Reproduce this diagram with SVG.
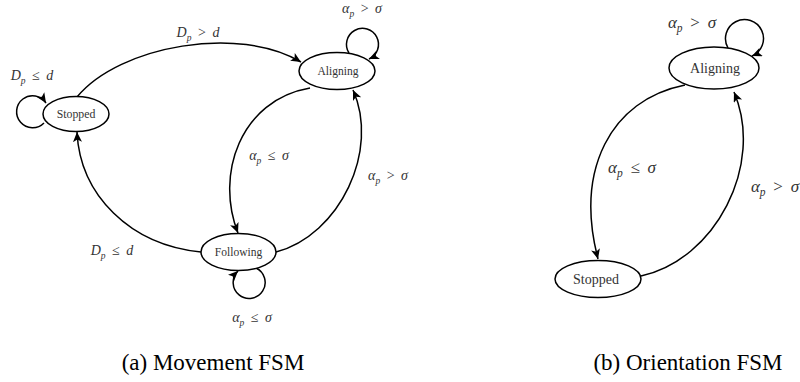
<svg xmlns="http://www.w3.org/2000/svg" width="800" height="382" viewBox="0 0 800 382">
<defs>
<marker id="arr" markerUnits="userSpaceOnUse" markerWidth="11" markerHeight="10" refX="10" refY="4.5" orient="auto">
<path d="M0,0 L10,4.5 L0,9 L2.5,4.5 z" fill="#000"/>
</marker>
<style>
.st{fill:#fff;stroke:#000;stroke-width:1.5}
.nl{fill:#333;text-anchor:middle}
.ed{fill:none;stroke:#000;stroke-width:1.5;marker-end:url(#arr)}
.ml{fill:#333;text-anchor:middle}
.i{font-style:italic}
.cap{font-size:23px;fill:#000;text-anchor:middle}
</style>
</defs>
<rect width="800" height="382" fill="#fff"/>

<g id="connectors">
<path class="ed" d="M77,97 C120,45 240,25 301,62"/>
<path class="ed" d="M310,88 C240,100 215,175 238,233"/>
<path class="ed" d="M276,252 C340,235 380,150 353,90"/>
<path class="ed" d="M201,252 C130,245 80,195 77,132"/>
<path class="ed" d="M44,123 A16,16 0 1 1 46,103"/>
<path class="ed" d="M349,53 A16,16 0 1 1 369,59"/>
<path class="ed" d="M256,268 A16,16 0 1 1 238,271"/>
<path class="ed" d="M685,85 C610,100 575,170 598,259"/>
<path class="ed" d="M641,276 C715,260 765,165 734,92"/>
<path class="ed" d="M728,48 A19,19 0 1 1 752,56"/>
</g>

<g font-family="Liberation Serif, Times New Roman, serif">
<g id="stopped-a">
<ellipse class="st" cx="76" cy="114" rx="33" ry="17.5"/>
<text class="nl" x="76" y="118" font-size="11.8">Stopped</text>
</g>
<g id="aligning-a">
<ellipse class="st" cx="337" cy="71" rx="38" ry="18.5"/>
<text class="nl" x="338" y="75" font-size="11.5">Aligning</text>
</g>
<g id="following-a">
<ellipse class="st" cx="238.5" cy="252" rx="37.5" ry="18.5"/>
<text class="nl" x="238.5" y="256" font-size="11.5">Following</text>
</g>
<g id="aligning-b">
<ellipse class="st" cx="714" cy="68" rx="45" ry="21"/>
<text class="nl" x="715" y="73" font-size="14">Aligning</text>
</g>
<g id="stopped-b">
<ellipse class="st" cx="598" cy="279" rx="43" ry="18.5"/>
<text class="nl" x="596" y="284" font-size="14">Stopped</text>
</g>

<g id="labels">
<text class="ml" x="362" y="13" font-size="14"><tspan class="i">α</tspan><tspan class="i" font-size="9.5" dy="3.5">p</tspan><tspan dy="-3.5" dx="3"> &gt; </tspan><tspan class="i" dx="3">σ</tspan></text>
<text class="ml" x="32" y="80" font-size="14"><tspan class="i">D</tspan><tspan class="i" font-size="9.5" dy="3.5">p</tspan><tspan dy="-3.5" dx="3"> ≤ </tspan><tspan class="i" dx="3">d</tspan></text>
<text class="ml" x="198" y="37" font-size="14"><tspan class="i">D</tspan><tspan class="i" font-size="9.5" dy="3.5">p</tspan><tspan dy="-3.5" dx="3"> &gt; </tspan><tspan class="i" dx="3">d</tspan></text>
<text class="ml" x="269" y="160" font-size="14"><tspan class="i">α</tspan><tspan class="i" font-size="9.5" dy="3.5">p</tspan><tspan dy="-3.5" dx="3"> ≤ </tspan><tspan class="i" dx="3">σ</tspan></text>
<text class="ml" x="388" y="180" font-size="14"><tspan class="i">α</tspan><tspan class="i" font-size="9.5" dy="3.5">p</tspan><tspan dy="-3.5" dx="3"> &gt; </tspan><tspan class="i" dx="3">σ</tspan></text>
<text class="ml" x="112" y="255" font-size="14"><tspan class="i">D</tspan><tspan class="i" font-size="9.5" dy="3.5">p</tspan><tspan dy="-3.5" dx="3"> ≤ </tspan><tspan class="i" dx="3">d</tspan></text>
<text class="ml" x="252" y="322" font-size="14"><tspan class="i">α</tspan><tspan class="i" font-size="9.5" dy="3.5">p</tspan><tspan dy="-3.5" dx="3"> ≤ </tspan><tspan class="i" dx="3">σ</tspan></text>
<text class="ml" x="692" y="28" font-size="17"><tspan class="i">α</tspan><tspan class="i" font-size="11.5" dy="4">p</tspan><tspan dy="-4" dx="3.5"> &gt; </tspan><tspan class="i" dx="3.5">σ</tspan></text>
<text class="ml" x="632" y="173" font-size="17"><tspan class="i">α</tspan><tspan class="i" font-size="11.5" dy="4">p</tspan><tspan dy="-4" dx="3.5"> ≤ </tspan><tspan class="i" dx="3.5">σ</tspan></text>
<text class="ml" x="775" y="192" font-size="17"><tspan class="i">α</tspan><tspan class="i" font-size="11.5" dy="4">p</tspan><tspan dy="-4" dx="3.5"> &gt; </tspan><tspan class="i" dx="3.5">σ</tspan></text>
</g>

<g id="captions">
<text class="cap" x="213" y="370">(a) Movement FSM</text>
<text class="cap" x="688" y="370">(b) Orientation FSM</text>
</g>
</g>
</svg>
